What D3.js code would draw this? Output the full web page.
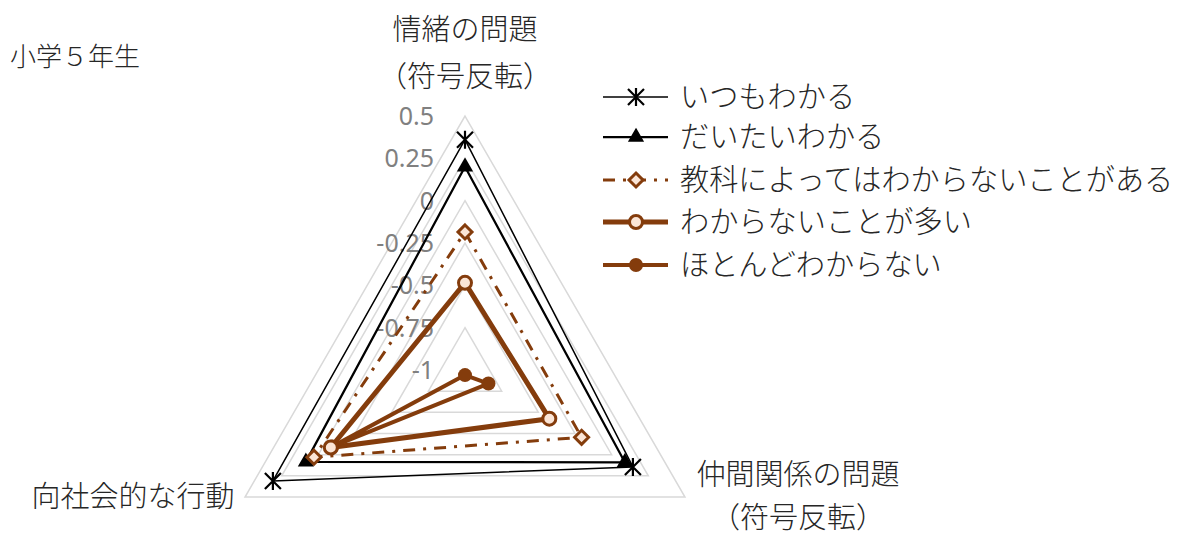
<!DOCTYPE html>
<html>
<head>
<meta charset="utf-8">
<script src="https://cdn.jsdelivr.net/npm/d3@7"></script>
<style>
  body { margin: 0; background: #fff; }
  text { font-family: "Noto Sans CJK JP", "Noto Sans", sans-serif; fill: #262626; font-weight: 300; }
  .tick-label { font-family: "Noto Sans", "Liberation Sans", sans-serif; fill: #808080; font-weight: 400; }
</style>
</head>
<body>
<svg id="chart" width="1177" height="535"></svg>
<script>
// 小学5年生 radar
var axisNames = [["情緒の問題", "（符号反転）"], ["仲間関係の問題", "（符号反転）"], ["向社会的な行動"]];
var seriesNames = ["いつもわかる", "だいたいわかる", "教科によってはわからないことがある", "わからないことが多い", "ほとんどわからない"];
var itsumo   = [0.36, 0.145, 0.31];
var daitai   = [0.20, 0.09, 0.085];
var kyouka   = [-0.185, -0.205, 0.03];
var ooi      = [-0.485, -0.425, -0.085];
var hotondo  = [-1.03, -0.84, -0.095];
var tickValues = [0.5, 0.25, 0, -0.25, -0.5, -0.75, -1];

var svg = d3.select("#chart");
var cx = 465, cy = 370, R = 254;
var brown = "#843C0C", light = "#FBE5D6";

var r = d3.scaleLinear().domain([-1, 0.5]).range([0, R]);
var angle = d3.scaleLinear().domain([0, 3]).range([0, 2 * Math.PI]);

function pt(v, i) {
    var a = angle(i);
    return [cx + r(v) * Math.sin(a), cy - r(v) * Math.cos(a)];
}

// grid triangles
var grid = svg.append("g");
tickValues.filter(t => t > -1).forEach(function(t) {
    grid.append("path")
        .attr("d", d3.line()([0, 1, 2].map(i => pt(t, i))) + "Z")
        .attr("fill", "none")
        .attr("stroke", "#d9d9d9")
        .attr("stroke-width", 1.5);
});

// tick labels
svg.append("g").selectAll("text")
    .data(tickValues)
    .enter().append("text")
    .attr("class", "tick-label")
    .attr("x", cx - 31)
    .attr("y", d => cy - r(d) + 9)
    .attr("text-anchor", "end")
    .attr("font-size", 25)
    .text(d => d);

// axis labels
var labelPos = [{x: 465, y: [30, 77]}, {x: 798, y: [475, 518]}, {x: 133, y: [497]}];
axisNames.forEach(function(lines, i) {
    lines.forEach(function(s, j) {
        svg.append("text")
            .attr("x", labelPos[i].x)
            .attr("y", labelPos[i].y[j] + 10)
            .attr("text-anchor", "middle")
            .attr("font-size", 29)
            .text(s);
    });
});

svg.append("text")
    .attr("x", 10).attr("y", 66)
    .attr("font-size", 26)
    .text("小学５年生");

var styles = [
    {values: itsumo,  color: "#000", width: 1.5, dash: null,          marker: "star"},
    {values: daitai,  color: "#000", width: 2.25, dash: null,         marker: "triangle"},
    {values: kyouka,  color: brown,  width: 3,   dash: "12,8,3,8",    marker: "diamond"},
    {values: ooi,     color: brown,  width: 5,   dash: null,          marker: "open"},
    {values: hotondo, color: brown,  width: 4,   dash: null,          marker: "dot"}
];

function drawMarker(g, type, x, y) {
    if (type === "star") {
        var s = 8;
        g.append("path")
            .attr("d", `M${x - s},${y - s}L${x + s},${y + s}M${x - s},${y + s}L${x + s},${y - s}M${x},${y - s - 1}L${x},${y + s + 1}`)
            .attr("stroke", "#000").attr("stroke-width", 2.2).attr("fill", "none");
    } else if (type === "triangle") {
        g.append("path")
            .attr("d", d3.symbol(d3.symbolTriangle, 80)())
            .attr("transform", `translate(${x},${y})`)
            .attr("fill", "#000").attr("stroke", "#000").attr("stroke-width", 1.5);
    } else if (type === "diamond") {
        var d = 7;
        g.append("path")
            .attr("d", `M${x},${y - d}L${x + d},${y}L${x},${y + d}L${x - d},${y}Z`)
            .attr("fill", light).attr("stroke", brown).attr("stroke-width", 3);
    } else if (type === "open") {
        g.append("circle").attr("cx", x).attr("cy", y).attr("r", 6.5)
            .attr("fill", light).attr("stroke", brown).attr("stroke-width", 3);
    } else {
        g.append("circle").attr("cx", x).attr("cy", y).attr("r", 7)
            .attr("fill", brown);
    }
}

var plot = svg.append("g");
var line = d3.line();
styles.forEach(function(s) {
    var pts = s.values.map((v, i) => pt(v, i));
    plot.append("path")
        .attr("d", line(pts) + "Z")
        .attr("fill", "none")
        .attr("stroke", s.color)
        .attr("stroke-width", s.width)
        .attr("stroke-dasharray", s.dash)
        .attr("stroke-linejoin", "round");
});
// markers, the filled dots go below the open circles like in the original
[0, 1, 2, 4, 3].forEach(function(k) {
    var s = styles[k];
    s.values.forEach((v, i) => {
        var p = pt(v, i);
        drawMarker(plot, s.marker, p[0], p[1]);
    });
});

// legend
var legendY = [97, 137, 180, 222, 265];
var legend = svg.append("g");
styles.forEach(function(s, k) {
    var y = legendY[k];
    legend.append("line")
        .attr("x1", 603).attr("x2", 668).attr("y1", y).attr("y2", y)
        .attr("stroke", s.color)
        .attr("stroke-width", s.width)
        .attr("stroke-dasharray", s.dash);
    drawMarker(legend, s.marker, 636, y);
    legend.append("text")
        .attr("x", 680).attr("y", y + 10)
        .attr("font-size", 29.2)
        .text(seriesNames[k]);
});
</script>
</body>
</html>
